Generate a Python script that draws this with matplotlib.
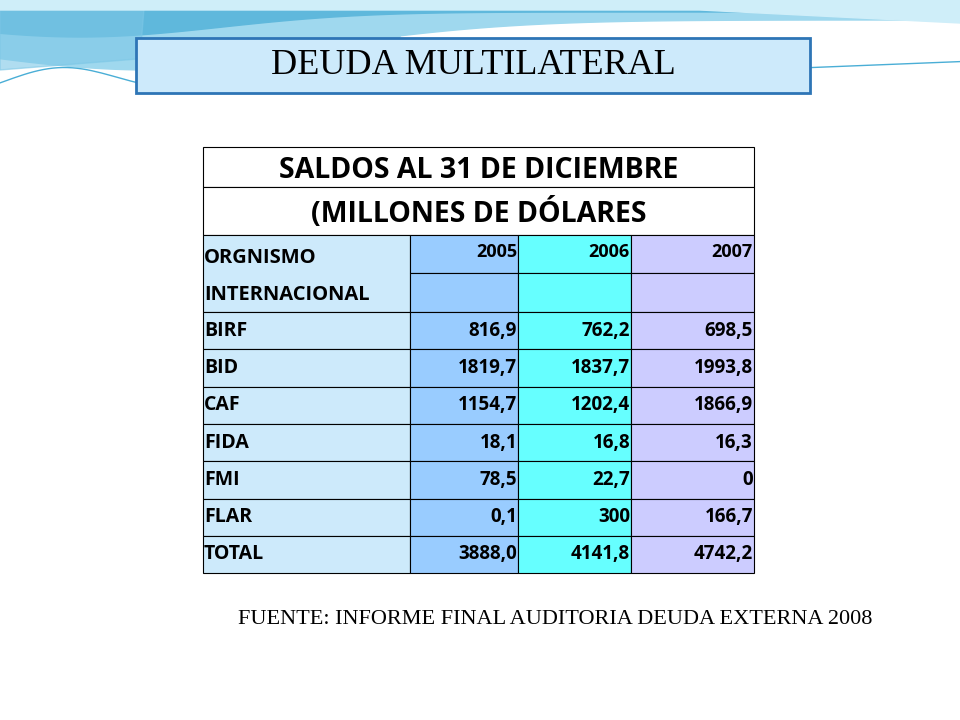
import numpy as np
import matplotlib.pyplot as plt
from matplotlib.patches import Rectangle

# data
organismos = ['BIRF', 'BID', 'CAF', 'FIDA', 'FMI', 'FLAR', 'TOTAL']
anios = ['2005', '2006', '2007']
v2005 = ['816,9', '1819,7', '1154,7', '18,1', '78,5', '0,1', '3888,0']
v2006 = ['762,2', '1837,7', '1202,4', '16,8', '22,7', '300', '4141,8']
v2007 = ['698,5', '1993,8', '1866,9', '16,3', '0', '166,7', '4742,2']

fig = plt.figure(figsize=(9.6, 7.2), dpi=100)
ax = fig.add_axes([0, 0, 1, 1])
ax.set_xlim(0, 960)
ax.set_ylim(720, 0)
ax.axis('off')

# top wave decoration
xs = np.linspace(0, 960, 200)
ax.fill_between(xs, 0, 20 + 40 * np.exp(-((xs - 150) / 260) ** 2) + 10 * (xs < 400), color='#9fd8ee', zorder=0)
ax.fill_between(xs, 0, 12 + 25 * np.exp(-((xs - 80) / 200) ** 2), color='#5fb8dc', zorder=0)
ax.fill_between(xs, 0, np.clip(70 - 0.08 * xs, 0, None) * (xs < 140), color='#7cc7e6', alpha=0.6, zorder=0)
ax.fill_between(xs, 0, 10 + 0.05 * np.clip(xs - 700, 0, None), color='#cfeef9', zorder=0)
ax.plot(xs, 100 - 0.04 * xs - 30 * np.exp(-((xs - 60) / 80) ** 2), color='#4aaed6', lw=1, zorder=0)

# title box
ax.add_patch(Rectangle((136, 38), 674, 55, facecolor='#cdeafb', edgecolor='#2e75b6', lw=2))
ax.text(473, 66, 'DEUDA MULTILATERAL', fontsize=26, family='Liberation Serif',
        ha='center', va='center')

# table geometry
cols = [203, 410, 518, 631, 754]
col_colors = ['#cdeafb', '#99ccff', '#66ffff', '#ccccff']
rows = [147, 187, 235, 273, 312] + [312 + 37.3 * (i + 1) for i in range(len(organismos))]
font = 'Open Sans'

def cell(x0, x1, y0, y1, fc):
    ax.add_patch(Rectangle((x0, y0), x1 - x0, y1 - y0, facecolor=fc, edgecolor='black', lw=0.8))

cell(cols[0], cols[-1], rows[0], rows[1], 'white')
cell(cols[0], cols[-1], rows[1], rows[2], 'white')
ax.text((cols[0] + cols[-1]) / 2, (rows[0] + rows[1]) / 2 + 4, 'SALDOS AL 31 DE DICIEMBRE',
        fontsize=20.5, weight='bold', family=font, ha='center', va='center')
ax.text((cols[0] + cols[-1]) / 2, (rows[1] + rows[2]) / 2 + 2, '(MILLONES DE DÓLARES',
        fontsize=20.5, weight='bold', family=font, ha='center', va='center')

# header
cell(cols[0], cols[1], rows[2], rows[4], col_colors[0])
ax.text(cols[0] + 1, (rows[2] + rows[3]) / 2 + 4, 'ORGNISMO', fontsize=14.5, weight='bold', family=font, va='center')
ax.text(cols[0] + 1, (rows[3] + rows[4]) / 2 + 3, 'INTERNACIONAL', fontsize=14.5, weight='bold', family=font, va='center')
for j, a in enumerate(anios):
    cell(cols[j + 1], cols[j + 2], rows[2], rows[3], col_colors[j + 1])
    cell(cols[j + 1], cols[j + 2], rows[3], rows[4], col_colors[j + 1])
    ax.text(cols[j + 2] - 1, (rows[2] + rows[3]) / 2 - 2, a, fontsize=13, weight='bold', family=font,
            ha='right', va='center')

# body
for i, org in enumerate(organismos):
    y0, y1 = rows[4 + i], rows[5 + i]
    ym = (y0 + y1) / 2
    cell(cols[0], cols[1], y0, y1, col_colors[0])
    ax.text(cols[0] + 1, ym, org, fontsize=14, weight='bold', family=font, va='center')
    for j, vals in enumerate([v2005, v2006, v2007]):
        cell(cols[j + 1], cols[j + 2], y0, y1, col_colors[j + 1])
        ax.text(cols[j + 2] - 1, ym, vals[i], fontsize=13.5, weight='bold', family=font,
                ha='right', va='center')

ax.text(555, 619, 'FUENTE: INFORME FINAL AUDITORIA DEUDA EXTERNA 2008', fontsize=16,
        family='Liberation Serif', ha='center', va='center')

fig.savefig('out.png', dpi=100)
